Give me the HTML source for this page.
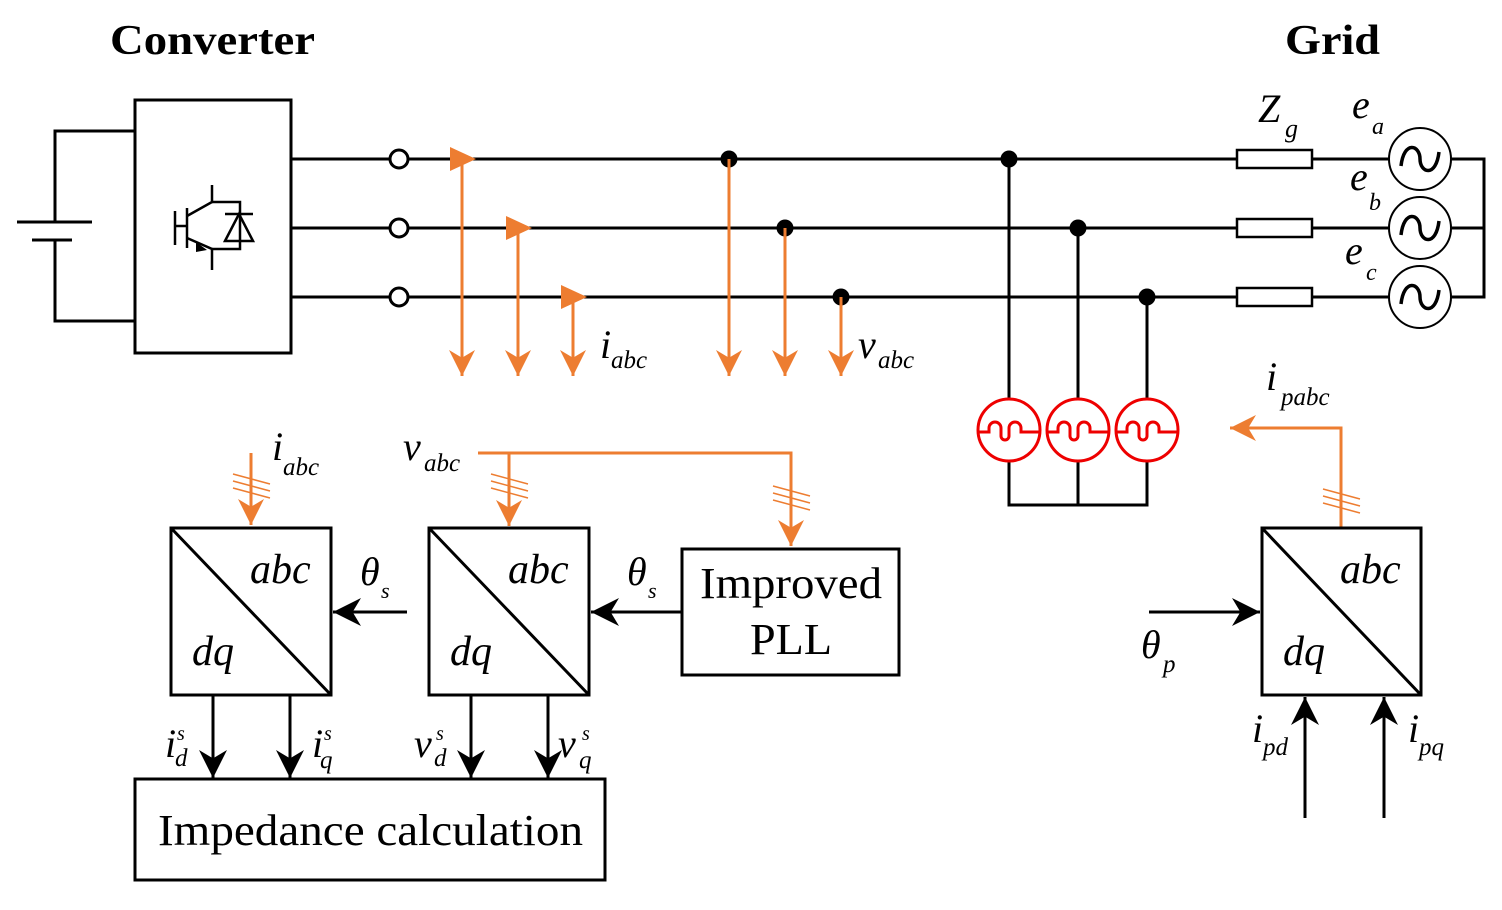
<!DOCTYPE html>
<html><head><meta charset="utf-8"><style>body{margin:0;background:#fff}svg{display:block}</style></head><body>
<svg width="1502" height="910" viewBox="0 0 1502 910" xmlns="http://www.w3.org/2000/svg">
<defs>
<marker id="ab" viewBox="0 0 10 10" refX="10" refY="5" markerWidth="28" markerHeight="28" markerUnits="userSpaceOnUse" orient="auto"><path d="M0,0 L10,5 L0,10 L3,5 z" fill="#000"/></marker>
<marker id="ao" viewBox="0 0 10 10" refX="10" refY="5" markerWidth="26" markerHeight="26" markerUnits="userSpaceOnUse" orient="auto"><path d="M0,0 L10,5 L0,10 L3,5 z" fill="#ED7D31"/></marker>
</defs>
<g font-family="Liberation Serif, serif">
<text x="110" y="54" font-size="42" font-weight="bold" textLength="205" lengthAdjust="spacingAndGlyphs">Converter</text>
<text x="1285" y="54" font-size="42" font-weight="bold" textLength="95" lengthAdjust="spacingAndGlyphs">Grid</text>
</g>
<g stroke="#000" stroke-width="3" fill="none">
<polyline points="135,131 55,131 55,222"/>
<polyline points="135,321 55,321 55,240"/>
<line x1="17" y1="222" x2="92" y2="222"/>
<line x1="32" y1="240" x2="72" y2="240"/>
<rect x="135" y="100" width="156" height="253"/>
<g stroke-width="2.5">
<line x1="175" y1="211" x2="175" y2="245"/>
<line x1="187" y1="208" x2="187" y2="248"/>
<line x1="174" y1="226" x2="187" y2="226"/>
<polyline points="187,216 212,202 212,185"/>
<polyline points="187,238 212,249 212,270"/>
<polyline points="212,202 240,202 240,249 212,249"/>
<line x1="225" y1="214" x2="253" y2="214"/>
</g>
<line x1="291" y1="159" x2="1237" y2="159"/>
<line x1="291" y1="228" x2="1237" y2="228"/>
<line x1="291" y1="297" x2="1237" y2="297"/>
<rect x="1237" y="150" width="75" height="18" stroke-width="2.5"/>
<rect x="1237" y="219" width="75" height="18" stroke-width="2.5"/>
<rect x="1237" y="288" width="75" height="18" stroke-width="2.5"/>
<line x1="1312" y1="159" x2="1389" y2="159"/>
<line x1="1312" y1="228" x2="1389" y2="228"/>
<line x1="1312" y1="297" x2="1389" y2="297"/>
<polyline points="1451,159 1484,159 1484,297 1451,297"/>
<line x1="1451" y1="228" x2="1484" y2="228"/>
<g stroke-width="2">
<circle cx="1420" cy="159" r="31"/><circle cx="1420" cy="228" r="31"/><circle cx="1420" cy="297" r="31"/>
</g>
<g stroke-width="3.5">
<path d="M1401,166 C1404,140 1420,145 1420,159 C1420,173 1436,178 1439,152"/>
<path d="M1401,235 C1404,209 1420,214 1420,228 C1420,242 1436,247 1439,221"/>
<path d="M1401,304 C1404,278 1420,283 1420,297 C1420,311 1436,316 1439,290"/>
</g>
<circle cx="399" cy="159" r="9" fill="#fff"/><circle cx="399" cy="228" r="9" fill="#fff"/><circle cx="399" cy="297" r="9" fill="#fff"/>
<line x1="1009" y1="159" x2="1009" y2="399"/>
<line x1="1078" y1="228" x2="1078" y2="399"/>
<line x1="1147" y1="297" x2="1147" y2="399"/>
<polyline points="1009,461 1009,505 1147,505 1147,461"/>
<line x1="1078" y1="461" x2="1078" y2="505"/>
</g>
<g fill="#000"><circle cx="729" cy="159" r="8.5"/><circle cx="785" cy="228" r="8.5"/><circle cx="841" cy="297" r="8.5"/>
<circle cx="1009" cy="159" r="8.5"/><circle cx="1078" cy="228" r="8.5"/><circle cx="1147" cy="297" r="8.5"/>
<path d="M196,242 L207,250 L196,252 z"/><path d="M225,241 L239,214 L253,241 z" fill="none" stroke="#000" stroke-width="2.5"/></g>
<g stroke="#E00" stroke-width="3" fill="none">
<circle cx="1009" cy="430" r="31"/><circle cx="1078" cy="430" r="31"/><circle cx="1147" cy="430" r="31"/>
<path d="M979,432 H989 V428 A6,6 0 0 1 1001,428 V436 A4,4 0 0 0 1009,436 V428 A6,6 0 0 1 1021,428 V432 H1039"/>
<path d="M1048,432 H1058 V428 A6,6 0 0 1 1070,428 V436 A4,4 0 0 0 1078,436 V428 A6,6 0 0 1 1090,428 V432 H1108"/>
<path d="M1117,432 H1127 V428 A6,6 0 0 1 1139,428 V436 A4,4 0 0 0 1147,436 V428 A6,6 0 0 1 1159,428 V432 H1177"/>
</g>
<g stroke="#ED7D31" stroke-width="3" fill="none">
<line x1="462" y1="159" x2="462" y2="376" marker-end="url(#ao)"/>
<line x1="518" y1="228" x2="518" y2="376" marker-end="url(#ao)"/>
<line x1="573" y1="297" x2="573" y2="376" marker-end="url(#ao)"/>
<line x1="729" y1="159" x2="729" y2="376" marker-end="url(#ao)"/>
<line x1="785" y1="228" x2="785" y2="376" marker-end="url(#ao)"/>
<line x1="841" y1="297" x2="841" y2="376" marker-end="url(#ao)"/>
<line x1="251" y1="453" x2="251" y2="525" marker-end="url(#ao)"/>
<polyline points="478,453 791,453 791,546" marker-end="url(#ao)"/>
<line x1="509" y1="453" x2="509" y2="526" marker-end="url(#ao)"/>
<polyline points="1341,528 1341,428 1230,428" marker-end="url(#ao)"/>
<g stroke-width="1.5">
<path d="M233,474 L270,484 M233,481 L270,491 M233,488 L270,498"/>
<path d="M491,474 L528,484 M491,481 L528,491 M491,488 L528,498"/>
<path d="M773,486 L810,496 M773,493 L810,503 M773,500 L810,510"/>
<path d="M1323,489 L1360,499 M1323,496 L1360,506 M1323,503 L1360,513"/>
</g>
</g>
<g fill="#ED7D31">
<path d="M450,147 L476,159 L450,171 z"/><path d="M506,216 L532,228 L506,240 z"/><path d="M561,285 L587,297 L561,309 z"/>
</g>
<g stroke="#000" stroke-width="3" fill="none">
<rect x="171" y="528" width="160" height="167"/><line x1="171" y1="528" x2="331" y2="695"/>
<rect x="429" y="528" width="160" height="167"/><line x1="429" y1="528" x2="589" y2="695"/>
<rect x="1262" y="528" width="159" height="167"/><line x1="1262" y1="528" x2="1421" y2="695"/>
<rect x="682" y="549" width="217" height="126"/>
<rect x="135" y="779" width="470" height="101"/>
<line x1="407" y1="612" x2="333" y2="612" marker-end="url(#ab)"/>
<line x1="682" y1="612" x2="591" y2="612" marker-end="url(#ab)"/>
<line x1="1149" y1="612" x2="1260" y2="612" marker-end="url(#ab)"/>
<line x1="213" y1="695" x2="213" y2="778" marker-end="url(#ab)"/>
<line x1="290" y1="695" x2="290" y2="778" marker-end="url(#ab)"/>
<line x1="471" y1="695" x2="471" y2="778" marker-end="url(#ab)"/>
<line x1="548" y1="695" x2="548" y2="778" marker-end="url(#ab)"/>
<line x1="1305" y1="818" x2="1305" y2="697" marker-end="url(#ab)"/>
<line x1="1384" y1="818" x2="1384" y2="697" marker-end="url(#ab)"/>
</g>
<g font-family="Liberation Serif, serif" font-style="italic" fill="#000">
<g font-size="42"><text x="250" y="583">abc</text><text x="192" y="665">dq</text>
<text x="508" y="583">abc</text><text x="450" y="665">dq</text>
<text x="1340" y="583">abc</text><text x="1283" y="665">dq</text></g>
<text x="1258" y="122" font-size="40">Z</text><text x="1285" y="137" font-size="26">g</text>
<text x="1352" y="118" font-size="40">e</text><text x="1372" y="134" font-size="24">a</text>
<text x="1350" y="190" font-size="40">e</text><text x="1369" y="210" font-size="24">b</text>
<text x="1345" y="264" font-size="40">e</text><text x="1366" y="280" font-size="24">c</text>
<text x="600" y="358" font-size="40">i</text><text x="611" y="368" font-size="25">abc</text>
<text x="858" y="358" font-size="40">v</text><text x="878" y="368" font-size="25">abc</text>
<text x="1266" y="390" font-size="40">i</text><text x="1281" y="405" font-size="25">pabc</text>
<text x="272" y="460" font-size="40">i</text><text x="283" y="475" font-size="25">abc</text>
<text x="403" y="460" font-size="40">v</text><text x="424" y="471" font-size="25">abc</text>
<text x="360" y="585" font-size="40">θ</text><text x="381" y="598" font-size="22">s</text>
<text x="627" y="585" font-size="40">θ</text><text x="648" y="598" font-size="22">s</text>
<text x="1141" y="658" font-size="40">θ</text><text x="1163" y="672" font-size="25">p</text>
<text x="165" y="757" font-size="40">i</text><text x="177" y="740" font-size="20">s</text><text x="175" y="766" font-size="25">d</text>
<text x="312" y="757" font-size="40">i</text><text x="324" y="740" font-size="20">s</text><text x="320" y="768" font-size="25">q</text>
<text x="414" y="757" font-size="40">v</text><text x="436" y="740" font-size="20">s</text><text x="434" y="766" font-size="25">d</text>
<text x="558" y="757" font-size="40">v</text><text x="582" y="740" font-size="20">s</text><text x="579" y="768" font-size="25">q</text>
<text x="1252" y="742" font-size="40">i</text><text x="1263" y="755" font-size="25">pd</text>
<text x="1408" y="742" font-size="40">i</text><text x="1419" y="755" font-size="25">pq</text>
</g>
<g font-family="Liberation Serif, serif" font-size="44" fill="#000">
<text x="700" y="598" textLength="182" lengthAdjust="spacingAndGlyphs">Improved</text><text x="750" y="654" textLength="82" lengthAdjust="spacingAndGlyphs">PLL</text>
<text x="158" y="845" textLength="425" lengthAdjust="spacingAndGlyphs">Impedance calculation</text>
</g>
</svg>
</body></html>
